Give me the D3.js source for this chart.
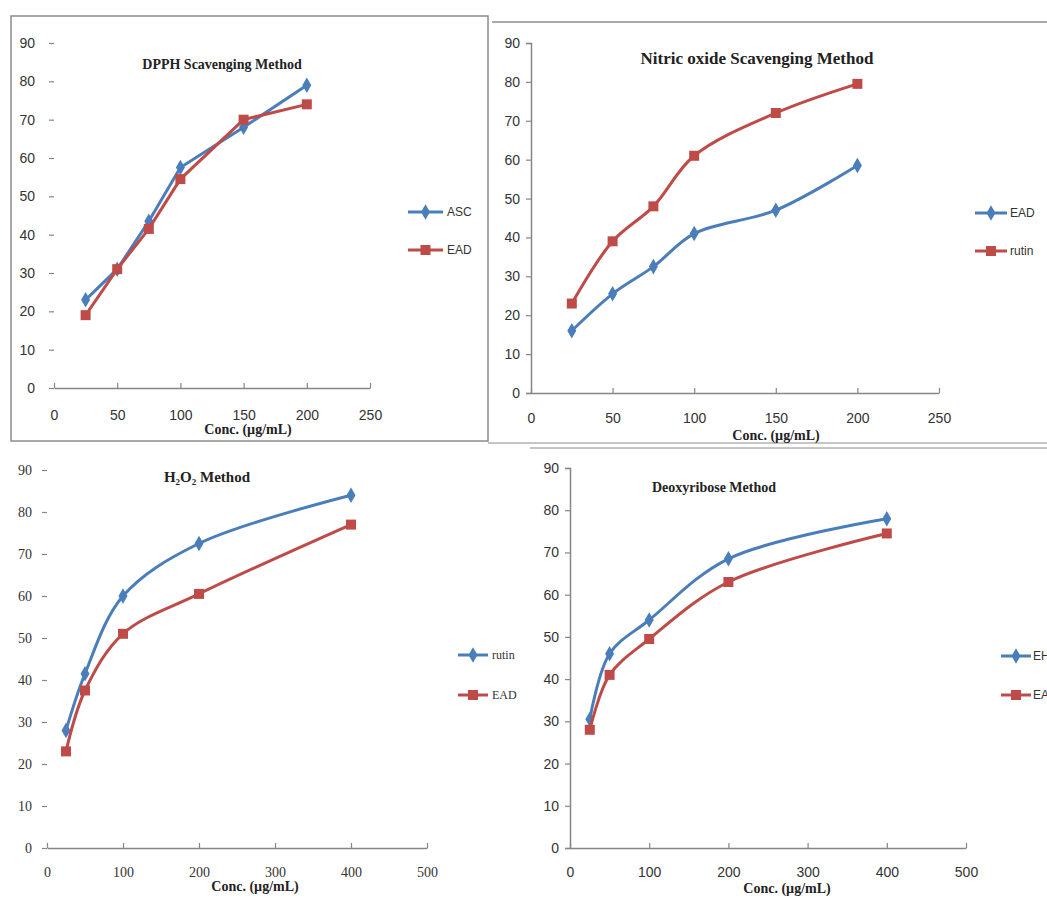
<!DOCTYPE html>
<html>
<head>
<meta charset="utf-8">
<script src="https://cdn.jsdelivr.net/npm/d3@7"></script>
<style>
  body { margin: 0; background: #fff; }
  svg { display: block; }
  .tick text { fill: #333; }
</style>
</head>
<body>
<svg width="1047" height="899"></svg>
<script>
// DPPH scavenging
var dpphConc = [25, 50, 75, 100, 150, 200];
var dpphASC = [23, 31, 43.5, 57.5, 68, 79];
var dpphEAD = [19, 31, 41.5, 54.5, 70, 74];

// Nitric oxide scavenging
var noConc = [25, 50, 75, 100, 150, 200];
var noEAD = [16, 25.5, 32.5, 41, 47, 58.5];
var noRutin = [23, 39, 48, 61, 72, 79.5];

// H2O2
var h2o2Conc = [25, 50, 100, 200, 400];
var h2o2Rutin = [28, 41.5, 60, 72.5, 84];
var h2o2EAD = [23, 37.5, 51, 60.5, 77];

// Deoxyribose
var deoxyConc = [25, 50, 100, 200, 400];
var deoxyEH = [30.5, 46, 54, 68.5, 78];
var deoxyEAD = [28, 41, 49.5, 63, 74.5];

var yTicks = [0, 10, 20, 30, 40, 50, 60, 70, 80, 90];
var xTicksSmall = [0, 50, 100, 150, 200, 250];
var xTicksLarge = [0, 100, 200, 300, 400, 500];

var BLUE = "#4a7ebb", RED = "#be4b48", AXIS = "#868686";

var svg = d3.select("svg");

// frames / separator lines seen in the figure
svg.append("rect")
    .attr("x", 11).attr("y", 16).attr("width", 477).attr("height", 425)
    .attr("fill", "none").attr("stroke", "#8c8c8c").attr("stroke-width", 1.5);
svg.append("line").attr("x1", 492).attr("x2", 1047).attr("y1", 22).attr("y2", 22)
    .attr("stroke", "#8c8c8c").attr("stroke-width", 1.5);
svg.append("line").attr("x1", 488).attr("x2", 1047).attr("y1", 443).attr("y2", 443)
    .attr("stroke", "#8c8c8c").attr("stroke-width", 1);
svg.append("line").attr("x1", 530).attr("x2", 1047).attr("y1", 448).attr("y2", 448)
    .attr("stroke", "#8c8c8c").attr("stroke-width", 1);

var panels = [
    { title: "DPPH Scavenging Method", titleX: 222, titleY: 69, titleSize: 14,
      conc: dpphConc, series: [{ name: "ASC", values: dpphASC, color: BLUE, marker: "diamond" },
                               { name: "EAD", values: dpphEAD, color: RED, marker: "square" }],
      xMax: 250, xTicks: xTicksSmall, xr: [54, 370], yr: [388, 43], showY: false,
      curve: d3.curveLinear, tickFont: "Liberation Sans", xPad: 22, yPad: 14,
      leg: [408, 443, 447, 212, 38], axisTitle: [248, 434] },
    { title: "Nitric oxide Scavenging Method", titleX: 757, titleY: 64, titleSize: 17,
      conc: noConc, series: [{ name: "EAD", values: noEAD, color: BLUE, marker: "diamond" },
                             { name: "rutin", values: noRutin, color: RED, marker: "square" }],
      xMax: 250, xTicks: xTicksSmall, xr: [531, 939], yr: [393, 43], showY: true,
      curve: d3.curveCatmullRom.alpha(0.5), tickFont: "Liberation Sans", xPad: 20, yPad: 6,
      leg: [975, 1007, 1010, 213, 38], axisTitle: [776, 440] },
    { title: "H\u2082O\u2082 Method", titleX: 207, titleY: 482, titleSize: 15,
      conc: h2o2Conc, series: [{ name: "rutin", values: h2o2Rutin, color: BLUE, marker: "diamond" },
                               { name: "EAD", values: h2o2EAD, color: RED, marker: "square" }],
      xMax: 500, xTicks: xTicksLarge, xr: [47, 427], yr: [848, 470], showY: false,
      curve: d3.curveCatmullRom.alpha(0.5), tickFont: "Liberation Serif", xPad: 19, yPad: 10,
      leg: [458, 488, 492, 655, 40], axisTitle: [255, 891] },
    { title: "Deoxyribose Method", titleX: 714, titleY: 492, titleSize: 14,
      conc: deoxyConc, series: [{ name: "EHD", values: deoxyEH, color: BLUE, marker: "diamond" },
                                { name: "EAD", values: deoxyEAD, color: RED, marker: "square" }],
      xMax: 500, xTicks: xTicksLarge, xr: [570, 966], yr: [848, 468], showY: true,
      curve: d3.curveCatmullRom.alpha(0.5), tickFont: "Liberation Sans", xPad: 19, yPad: 6,
      leg: [1001, 1031, 1033, 656, 39], axisTitle: [787, 893] }
];

panels.forEach(function(p) {
    var x = d3.scaleLinear().domain([0, p.xMax]).range(p.xr);
    var y = d3.scaleLinear().domain([0, 90]).range(p.yr);
    var g = svg.append("g");

    // y axis
    var ya = g.append("g")
        .attr("transform", "translate(" + p.xr[0] + ",0)")
        .call(d3.axisLeft(y).tickValues(yTicks).tickSize(5).tickPadding(p.yPad));
    ya.select(".domain").attr("stroke", p.showY ? AXIS : "none").attr("stroke-width", 1.5);
    ya.selectAll(".tick line").attr("stroke", AXIS).attr("stroke-width", 1.2);
    ya.selectAll(".tick text").style("font-family", p.tickFont).style("font-size", "14px");

    // x axis
    var xa = g.append("g")
        .attr("transform", "translate(0," + p.yr[0] + ")")
        .call(d3.axisBottom(x).tickValues(p.xTicks).tickSizeInner(-5).tickSizeOuter(0).tickPadding(p.xPad));
    xa.select(".domain").attr("stroke", AXIS).attr("stroke-width", 1.5);
    xa.selectAll(".tick line").attr("stroke", AXIS).attr("stroke-width", 1.2);
    xa.selectAll(".tick text").style("font-family", p.tickFont).style("font-size", "14px");

    // title
    g.append("text")
        .attr("x", p.titleX).attr("y", p.titleY)
        .attr("text-anchor", "middle")
        .style("font-family", "Liberation Serif").style("font-weight", "bold")
        .style("font-size", p.titleSize + "px").attr("fill", "#222")
        .text(p.title);

    // x axis title
    g.append("text")
        .attr("x", p.axisTitle[0]).attr("y", p.axisTitle[1])
        .attr("text-anchor", "middle")
        .style("font-family", "Liberation Serif").style("font-weight", "bold")
        .style("font-size", "14px").attr("fill", "#222")
        .text("Conc. (\u00b5g/mL)");

    p.series.forEach(function(s, i) {
        var pts = p.conc.map(function(c, j) { return [c, s.values[j]]; });
        var line = d3.line()
            .x(function(d) { return x(d[0]); })
            .y(function(d) { return y(d[1]); })
            .curve(p.curve);
        g.append("path")
            .datum(pts)
            .attr("d", line)
            .attr("fill", "none")
            .attr("stroke", s.color)
            .attr("stroke-width", 3);

        var sym = s.marker === "square" ? d3.symbolSquare : d3.symbolDiamond;
        var size = s.marker === "square" ? 100 : 70;
        g.selectAll(".m" + i)
            .data(pts)
            .enter().append("path")
            .attr("transform", function(d) { return "translate(" + x(d[0]) + "," + y(d[1]) + ")"; })
            .attr("d", d3.symbol().type(sym).size(size))
            .attr("fill", s.color);

        // legend
        var ly = p.leg[3] + i * p.leg[4];
        g.append("line")
            .attr("x1", p.leg[0]).attr("x2", p.leg[1])
            .attr("y1", ly).attr("y2", ly)
            .attr("stroke", s.color).attr("stroke-width", 3);
        g.append("path")
            .attr("transform", "translate(" + (p.leg[0] + p.leg[1]) / 2 + "," + ly + ")")
            .attr("d", d3.symbol().type(sym).size(size))
            .attr("fill", s.color);
        g.append("text")
            .attr("x", p.leg[2]).attr("y", ly + 4)
            .style("font-family", p.tickFont).style("font-size", "12px")
            .attr("fill", "#333")
            .text(s.name);
    });
});
</script>
</body>
</html>
